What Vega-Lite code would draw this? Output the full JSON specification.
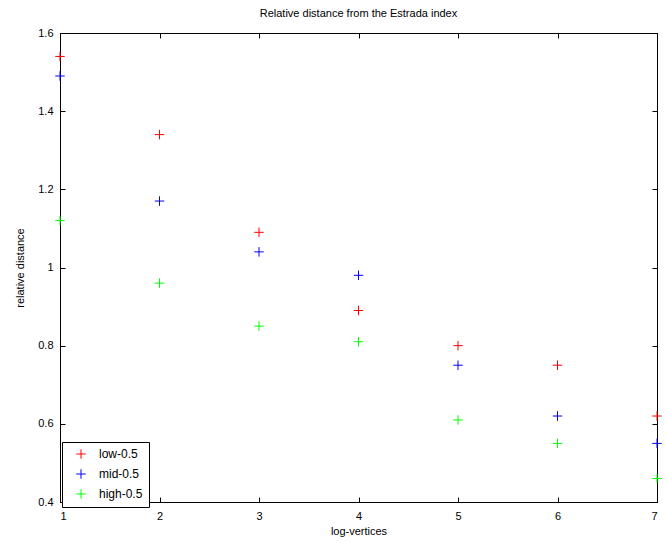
{
  "$schema": "https://vega.github.io/schema/vega-lite/v6.json",
  "width": 597,
  "height": 469,
  "autosize": "none",
  "padding": {"left": 60, "top": 33, "right": 10, "bottom": 41},
  "background": "white",
  "title": {"text": "Relative distance from the Estrada index", "font": "Liberation Sans", "fontSize": 11, "fontWeight": "normal", "color": "black", "offset": 8},
  "config": {
    "view": {"stroke": "black", "strokeWidth": 1},
    "axis": {"grid": false, "domainColor": "black", "tickColor": "black", "labelColor": "black", "titleColor": "black", "labelFont": "Liberation Sans", "titleFont": "Liberation Sans", "labelFontSize": 11, "titleFontSize": 11, "titleFontWeight": "normal", "tickSize": -5, "domain": true}
  },
  "data": {"values": [
    {"x": 1, "y": 1.54, "series": "low-0.5"},
    {"x": 2, "y": 1.34, "series": "low-0.5"},
    {"x": 3, "y": 1.09, "series": "low-0.5"},
    {"x": 4, "y": 0.89, "series": "low-0.5"},
    {"x": 5, "y": 0.80, "series": "low-0.5"},
    {"x": 6, "y": 0.75, "series": "low-0.5"},
    {"x": 7, "y": 0.62, "series": "low-0.5"},
    {"x": 1, "y": 1.49, "series": "mid-0.5"},
    {"x": 2, "y": 1.17, "series": "mid-0.5"},
    {"x": 3, "y": 1.04, "series": "mid-0.5"},
    {"x": 4, "y": 0.98, "series": "mid-0.5"},
    {"x": 5, "y": 0.75, "series": "mid-0.5"},
    {"x": 6, "y": 0.62, "series": "mid-0.5"},
    {"x": 7, "y": 0.55, "series": "mid-0.5"},
    {"x": 1, "y": 1.12, "series": "high-0.5"},
    {"x": 2, "y": 0.96, "series": "high-0.5"},
    {"x": 3, "y": 0.85, "series": "high-0.5"},
    {"x": 4, "y": 0.81, "series": "high-0.5"},
    {"x": 5, "y": 0.61, "series": "high-0.5"},
    {"x": 6, "y": 0.55, "series": "high-0.5"},
    {"x": 7, "y": 0.46, "series": "high-0.5"}
  ]},
  "layer": [
    {
      "mark": {"type": "point", "shape": "M-1,0H1M0,-1V1", "filled": false, "size": 90, "strokeWidth": 1, "opacity": 1, "clip": false},
      "encoding": {
        "x": {"field": "x", "type": "quantitative", "scale": {"domain": [1, 7], "nice": false, "zero": false}, "axis": {"orient": "bottom", "title": "log-vertices", "values": [1, 2, 3, 4, 5, 6, 7], "labelPadding": 13, "titlePadding": 4, "format": "d"}},
        "y": {"field": "y", "type": "quantitative", "scale": {"domain": [0.4, 1.6], "nice": false, "zero": false}, "axis": {"orient": "left", "title": "relative distance", "values": [0.4, 0.6, 0.8, 1, 1.2, 1.4, 1.6], "labelPadding": 12, "titlePadding": 12, "format": "~g"}},
        "color": {"field": "series", "type": "nominal", "scale": {"domain": ["low-0.5", "mid-0.5", "high-0.5"], "range": ["#ff0000", "#0000ff", "#00ff00"]},
          "legend": {"title": null, "orient": "none", "legendX": 2, "legendY": 409, "strokeColor": "black", "fillColor": "white", "padding": 6, "symbolType": "M-1,0H1M0,-1V1", "symbolSize": 90, "symbolStrokeWidth": 1, "symbolOffset": 7, "labelOffset": 12, "labelFont": "Liberation Sans", "labelFontSize": 12, "labelColor": "black", "rowPadding": 6, "labelLimit": 200}}
      }
    },
    {
      "mark": {"type": "point", "opacity": 0},
      "encoding": {
        "x": {"field": "x", "type": "quantitative", "axis": {"orient": "top", "title": null, "labels": false, "values": [1, 2, 3, 4, 5, 6, 7]}},
        "y": {"field": "y", "type": "quantitative", "axis": {"orient": "right", "title": null, "labels": false, "values": [0.4, 0.6, 0.8, 1, 1.2, 1.4, 1.6]}}
      }
    }
  ],
  "resolve": {"axis": {"x": "independent", "y": "independent"}}
}
